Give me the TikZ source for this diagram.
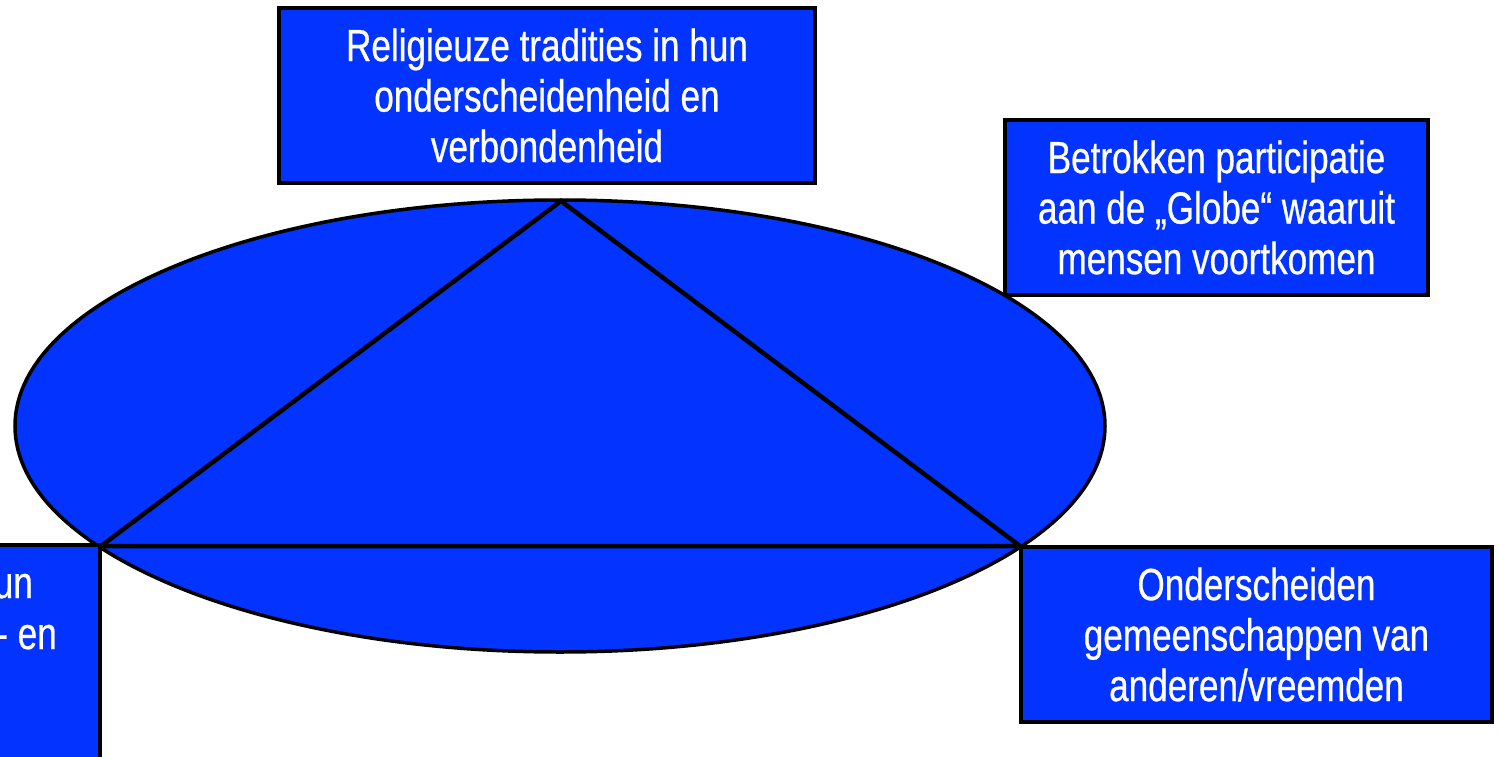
\documentclass[tikz,border=0pt]{standalone}
\usepackage{fontspec}
\usetikzlibrary{shapes.geometric}
\setmainfont{Liberation Sans}[FakeStretch=0.78,FakeBold=0.6]
\definecolor{boxblue}{RGB}{3,51,255}
\begin{document}
\begin{tikzpicture}[x=1pt,y=-1pt,
  bluebox/.style={draw=black, line width=3.5pt, fill=boxblue, text=white,
    align=center, inner sep=0pt, font=\fontsize{45}{50.5}\selectfont},
  tri/.style={draw=black, line width=4.5pt, line join=miter}]
\useasboundingbox (0,0) rectangle (1499,757);
\begin{scope}
\clip (0,0) rectangle (1499,757);
\node[draw=black, line width=3.5pt, fill=boxblue, shape=ellipse, minimum width=1090pt, minimum height=452pt, inner sep=0pt] (ell) at (560,426) {};
\coordinate (A) at (561,201);
\coordinate (B) at (101,546);
\coordinate (C) at (1020,546);
\draw[tri] (A) -- (B) -- (C) -- cycle;
\node[bluebox, minimum width=536pt, minimum height=175pt] (top) at (547,95.5)
  {Religieuze tradities in hun\\onderscheidenheid en\\verbondenheid};
\node[bluebox, minimum width=423pt, minimum height=175pt] (rtop) at (1216.5,207.5)
  {Betrokken participatie\\aan de „Globe“ waaruit\\mensen voortkomen};
\node[bluebox, minimum width=471pt, minimum height=175pt] (rbot) at (1256.5,634.5)
  {Onderscheiden\\gemeenschappen van\\anderen/vreemden};
\node[draw=black, line width=3.5pt, fill=boxblue, minimum width=500pt, minimum height=260pt, inner sep=0pt] (lbot) at (-150,675) {};
\node[text=white, anchor=base east, inner sep=0pt, font=\fontsize{45}{50.5}\selectfont] (l1) at (33,598) {un};
\node[text=white, anchor=base east, inner sep=0pt, font=\fontsize{45}{50.5}\selectfont] (l2) at (57,649) {- en};
\end{scope}
\end{tikzpicture}
\end{document}
